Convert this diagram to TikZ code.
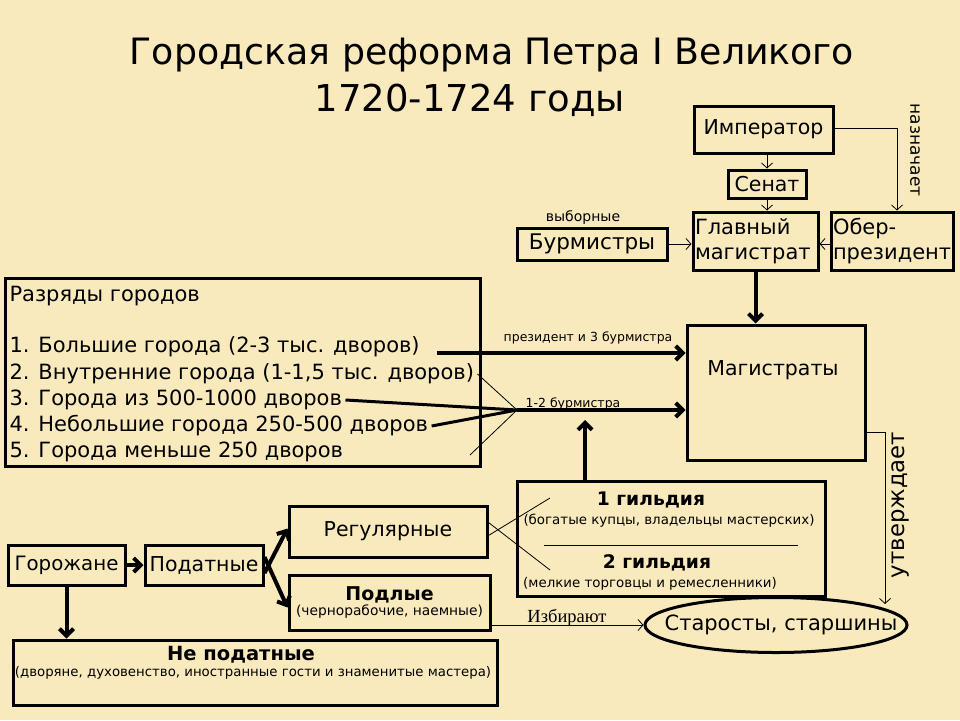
\documentclass[tikz,border=0pt]{standalone}
\usepackage{fontspec}
\setmainfont{DejaVu Sans}
\newfontfamily\serifrm{Liberation Serif}
\usetikzlibrary{arrows.meta,shapes.geometric}
\definecolor{bg}{RGB}{249,234,190}
\begin{document}
\begin{tikzpicture}[x=1pt,y=-1pt,
  box/.style={draw, line width=3pt, inner sep=2pt},
  big/.style={font=\fontsize{20.5}{24}\selectfont},
  list/.style={font=\fontsize{21}{24}\selectfont},
  small/.style={font=\fontsize{12.5}{14}\selectfont},
  tiny/.style={font=\fontsize{13.4}{15}\selectfont},
  bold/.style={font=\bfseries\fontsize{18.7}{22}\selectfont},
  thinarr/.style={line width=0.8pt, -{Straight Barb[length=5pt,width=11pt]}},
  thickarr/.style={line width=4pt, -{Straight Barb[length=7pt,width=14pt,line width=4pt]}},
  thinline/.style={line width=0.8pt},
  fatline/.style={line width=3pt}]
\fill[bg] (0,0) rectangle (960,720);
\useasboundingbox (0,0) rectangle (960,720);

% title
\node[font=\fontsize{36.3}{40}\selectfont] (t1) at (492,55) {Городская реформа Петра I Великого};
\node[font=\fontsize{37}{40}\selectfont] (t2) at (470,100) {1720-1724 годы};

% top block
\node[box, big, minimum width=139pt, minimum height=47pt] (imp) at (763.5,129.5) {Император};
\node[box, big, minimum width=78pt, minimum height=28pt, inner sep=0pt] (sen) at (767,184) {Сенат};
\node[box, font=\fontsize{21}{25}\selectfont, minimum width=125pt, minimum height=58pt, align=left, text width=121pt, inner sep=2pt] (glav) at (755.5,241) {Главный\\магистрат};
\node[box, font=\fontsize{21}{25}\selectfont, minimum width=122pt, minimum height=58pt, align=left, text width=118pt, inner sep=2pt] (ober) at (892,241) {Обер-\\президент};
\node[box, font=\fontsize{21.5}{25}\selectfont, minimum width=150pt, minimum height=32pt, inner sep=0pt] (burm) at (592,244) {Бурмистры};
\node[font=\fontsize{14}{16}\selectfont] (vyb) at (583,218) {выборные};

\draw[thinarr] (sen.north |- imp.south) -- (sen.north);
\draw[thinarr] (sen.south) -- (sen.south |- glav.north);
\coordinate (naz) at (897,128);
\draw[thinarr] (imp.east |- naz) -- (naz) -- (naz |- ober.north);
\node[font=\fontsize{17}{19}\selectfont, rotate=-90] (nazl) at (915,150) {назначает};
\draw[thinarr] (burm.east) -- (burm.east -| glav.west);
\draw[thinarr] (ober.west |- burm.east) -- (glav.east |- burm.east);

% Magistraty
\node[box, minimum width=178pt, minimum height=135pt] (mag) at (776,392.5) {};
\node[big] (magl) at (773,370) {Магистраты};
\draw[thickarr] (glav.south) -- (glav.south |- mag.north);

% Razryady
\node[box, minimum width=475pt, minimum height=188pt] (raz) at (242.5,372) {};
\node[list, anchor=west] (r0) at (6,296) {Разряды городов};
\node[list, anchor=west] (r1) at (6,347) {1. Большие города (2-3 тыс. дворов)};
\node[list, anchor=west] (r2) at (6,374) {2. Внутренние города (1-1,5 тыс. дворов)};
\node[list, anchor=west] (r3) at (6,400) {3. Города из 500-1000 дворов};
\node[list, anchor=west] (r4) at (6,426) {4. Небольшие города 250-500 дворов};
\node[list, anchor=west] (r5) at (6,452) {5. Города меньше 250 дворов};

\coordinate (fan) at (517,410);
\coordinate (a1) at (437,353);
\draw[thickarr] (a1) -- (a1 -| mag.west);
\node[small] (lp) at (588,338) {президент и 3 бурмистра};
\draw[thinline] (r2.east) -- (fan);
\draw[fatline] (r3.east) -- (fan);
\draw[fatline] (r4.east) -- (fan);
\coordinate (r5e) at (470,455);
\draw[thinline] (r5e) -- (fan);
\draw[thickarr] (fan) -- (fan -| mag.west);
\node[small] (l12) at (573,404) {1-2 бурмистра};

% guilds
\node[box, minimum width=308pt, minimum height=115pt] (gild) at (671,538.5) {};
\node[bold] (g1) at (651,500) {1 гильдия};
\node[tiny] (g1s) at (669,521) {(богатые купцы, владельцы мастерских)};
\coordinate (sepl) at (544,545);
\coordinate (sepr) at (798,545);
\draw[line width=0.8pt] (sepl) -- (sepr);
\node[bold] (g2) at (657,563) {2 гильдия};
\node[tiny] (g2s) at (650,584) {(мелкие торговцы и ремесленники)};
\coordinate (up) at (585,420);
\draw[thickarr] (gild.north -| up) -- (up);

% lower left
\node[box, font=\fontsize{19.8}{23}\selectfont, minimum width=117pt, minimum height=40pt, inner sep=0pt] (gor) at (66.5,565) {Горожане};
\node[box, font=\fontsize{20.5}{23}\selectfont, minimum width=118pt, minimum height=40pt, inner sep=0pt] (pod) at (204,565) {Податные};
\node[box, big, minimum width=198pt, minimum height=51pt] (reg) at (388,531.5) {Регулярные};
\node[box, minimum width=201pt, minimum height=55pt, align=center, inner sep=1pt] (podl) at (389.5,602.5) {{\bfseries\fontsize{19}{22}\selectfont Подлые}\\[0pt]{\fontsize{13.8}{15}\selectfont (чернорабочие, наемные)}};
\node[box, minimum width=484pt, minimum height=65pt] (nep) at (255,672.5) {};
\node[font=\bfseries\fontsize{19.5}{22}\selectfont] (nepl) at (241,655) {Не податные};
\node[font=\fontsize{13.3}{15}\selectfont] (neps) at (253,673) {(дворяне, духовенство, иностранные гости и знаменитые мастера)};

\draw[thickarr] (gor.east) -- (pod.west);
\draw[thickarr] ([yshift=-8pt]pod.east) -- ([yshift=3pt]reg.west);
\draw[thickarr] ([yshift=8pt]pod.east) -- ([yshift=-5pt]podl.west);
\draw[thickarr] (gor.south) -- (gor.south |- nep.north);

\coordinate (ga) at (550,498);
\coordinate (gb) at (550,570);
\draw[thinline] ([yshift=-4pt]reg.east) -- (ga);
\draw[thinline] ([yshift=9pt]reg.east) -- (gb);

% starosty
\node[ellipse, draw, line width=3pt, minimum width=262pt, minimum height=55pt, inner sep=0pt] (star) at (776,625) {};
\node[font=\fontsize{21}{24}\selectfont] (starl) at (781,625) {Старосты, старшины};
\draw[thinarr] (star.west -| podl.east) -- (star.west);
\node[font=\serifrm\fontsize{18.5}{20}\selectfont] (izb) at (567,618) {Избирают};

\coordinate (ut) at (885,432);
\coordinate (ue) at (885,604);
\draw[thinarr] (ut -| mag.east) -- (ut) -- (ue);
\node[font=\fontsize{22.8}{25}\selectfont, rotate=90] (utl) at (900,505) {утверждает};
\end{tikzpicture}
\end{document}
